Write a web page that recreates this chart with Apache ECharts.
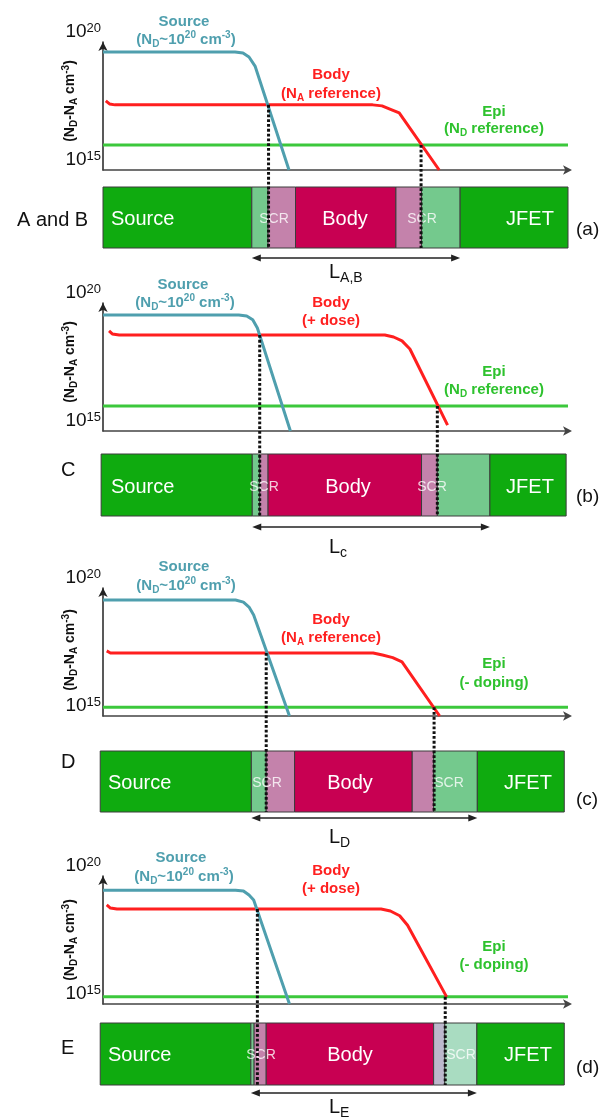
<!DOCTYPE html>
<html>
<head>
<meta charset="utf-8">
<script src="https://cdn.jsdelivr.net/npm/echarts@6/dist/echarts.min.js"></script>
<style>
  html, body { margin: 0; padding: 0; background: #fff; }
  #chart { width: 601px; height: 1119px; }
</style>
</head>
<body>
<div id="chart"></div>
<script>
// Net doping N_D - N_A (cm^-3) versus lateral position (0-100, arbitrary units)

// (a) devices A and B
const sourceXa = [0, 28.4, 30.1, 31.4, 32.7, 40.0];
const sourceNa = [4.1e19, 4.1e19, 3.7e19, 2.6e19, 1.15e19, 1e15];
const bodyXa = [0.6, 1.4, 2.6, 58.0, 60.0, 61.7, 63.7, 72.3];
const bodyNa = [5.0e17, 3.8e17, 3.5e17, 3.5e17, 3.2e17, 2.4e17, 1.7e17, 1e15];
const epiNa = 9.5e15;
const junctionXa = [35.6, 68.4];
const junctionNa = [3.5e17, 9.5e15];
const stripEdgesa = [0, 32.0, 35.5, 41.4, 63.0, 68.5, 76.8, 100];
const stripKindsa = ['source', 'scrN', 'scrP', 'body', 'scrP', 'scrN', 'jfet'];

// (b) device C
const sourceXb = [0, 29.2, 30.9, 32.2, 33.2, 40.3];
const sourceNb = [3.4e19, 3.4e19, 3.1e19, 2.2e19, 1.05e19, 1e15];
const bodyXb = [1.3, 2.0, 3.5, 60.6, 62.5, 64.3, 66.0, 74.1];
const bodyNb = [8.1e18, 6.2e18, 5.6e18, 5.6e18, 4.7e18, 3.3e18, 1.6e18, 1.7e15];
const epiNb = 9.5e15;
const junctionXb = [33.7, 71.9];
const junctionNb = [5.6e18, 9.5e15];
const stripEdgesb = [-0.4, 32.1, 33.7, 35.5, 68.5, 71.9, 83.2, 99.6];
const stripKindsb = ['source', 'scrN', 'scrP', 'body', 'scrP', 'scrN', 'jfet'];

// (c) device D
const sourceXc = [0, 28.5, 30.2, 31.4, 32.4, 40.1];
const sourceNc = [3.4e19, 3.4e19, 2.8e19, 1.8e19, 8.9e18, 1e15];
const bodyXc = [0.8, 1.6, 3.0, 58.1, 60.1, 62.3, 64.3, 72.4];
const bodyNc = [3.5e17, 2.9e17, 2.9e17, 2.9e17, 2.4e17, 1.9e17, 1.3e17, 1e15];
const epiNc = 2.2e15;
const junctionXc = [35.1, 71.2];
const junctionNc = [2.9e17, 2.2e15];
const stripEdgesc = [-0.6, 31.9, 35.1, 41.2, 66.5, 71.1, 80.5, 99.2];
const stripKindsc = ['source', 'scrN', 'scrP', 'body', 'scrP', 'scrN', 'jfet'];

// (d) device E
const sourceXd = [0, 28.5, 30.2, 31.4, 32.4, 40.1];
const sourceNd = [2.8e19, 2.8e19, 2.6e19, 1.8e19, 1.15e19, 1e15];
const bodyXd = [0.8, 1.6, 3.0, 59.8, 61.8, 63.8, 65.5, 73.9];
const bodyNd = [7.4e18, 5.6e18, 5.1e18, 5.1e18, 4.3e18, 2.8e18, 1.2e18, 1.9e15];
const epiNd = 1.9e15;
const junctionXd = [33.2, 73.6];
const junctionNd = [5.1e18, 1.9e15];
const stripEdgesd = [-0.6, 31.8, 32.5, 35.1, 71.1, 73.5, 80.4, 99.2];
const stripKindsd = ['source', 'scrN', 'scrP', 'body', 'scrG', 'scrM', 'jfet'];

// Text content
const panelTags = ['A and B', 'C', 'D', 'E'];
const panelIds = ['(a)', '(b)', '(c)', '(d)'];
const bodyNotes = ['(N{sub|A} reference)', '(+ dose)', '(N{sub|A} reference)', '(+ dose)'];
const epiNotes = ['(N{sub|D} reference)', '(N{sub|D} reference)', '(- doping)', '(- doping)'];
const lengthSubs = ['A,B', 'c', 'D', 'E'];
const regionNames = ['Source', 'SCR', 'Body', 'SCR', 'JFET'];

// Page layout (pixels)
const LAYOUT = [
  { top: 42,  stripTop: 187,  stripH: 61, arrowY: 258,  lY: 272,  srcY: [22, 40],   srcX: [184, 186], bodyY: [75, 94],   epiY: [112, 129], titleY: 101, tagX: 17, tagY: 220,  idY: 230,  labelY: 219,  labelX: [111, 274, 345, 422, 530] },
  { top: 303, stripTop: 454,  stripH: 62, arrowY: 527,  lY: 547,  srcY: [285, 303], srcX: [183, 185], bodyY: [303, 321], epiY: [372, 390], titleY: 362, tagX: 61, tagY: 470,  idY: 497,  labelY: 487,  labelX: [111, 264, 348, 432, 530] },
  { top: 588, stripTop: 751,  stripH: 61, arrowY: 818,  lY: 837,  srcY: [567, 586], srcX: [184, 186], bodyY: [620, 638], epiY: [664, 683], titleY: 650, tagX: 61, tagY: 762,  idY: 800,  labelY: 783,  labelX: [108, 267, 350, 449, 528] },
  { top: 876, stripTop: 1023, stripH: 62, arrowY: 1093, lY: 1107, srcY: [858, 877], srcX: [181, 184], bodyY: [871, 889], epiY: [947, 965], titleY: 940, tagX: 61, tagY: 1048, idY: 1068, labelY: 1055, labelX: [108, 261, 350, 461, 528] }
];
const PLOT_LEFT = 103, PLOT_W = 465, PLOT_H = 128;

const FONT = '"Liberation Sans", Arial, Helvetica, sans-serif';
const TEAL = '#4f9fae', RED = '#ff1f1f', EPI_LINE = '#3cc83c', EPI_TEXT = '#2ec22e';
const STRIP_COLORS = {
  source: '#0fab0f', jfet: '#0fab0f', scrN: '#74c98d', scrP: '#c482ab',
  body: '#c80052', scrG: '#bcb8cc', scrM: '#a9dcc1'
};

const panels = [
  { sourceX: sourceXa, sourceN: sourceNa, bodyX: bodyXa, bodyN: bodyNa, epiN: epiNa, junctionX: junctionXa, junctionN: junctionNa, edges: stripEdgesa, kinds: stripKindsa },
  { sourceX: sourceXb, sourceN: sourceNb, bodyX: bodyXb, bodyN: bodyNb, epiN: epiNb, junctionX: junctionXb, junctionN: junctionNb, edges: stripEdgesb, kinds: stripKindsb },
  { sourceX: sourceXc, sourceN: sourceNc, bodyX: bodyXc, bodyN: bodyNc, epiN: epiNc, junctionX: junctionXc, junctionN: junctionNc, edges: stripEdgesc, kinds: stripKindsc },
  { sourceX: sourceXd, sourceN: sourceNd, bodyX: bodyXd, bodyN: bodyNd, epiN: epiNd, junctionX: junctionXd, junctionN: junctionNd, edges: stripEdgesd, kinds: stripKindsd }
];

function scriptRich(color, size, weight) {
  const small = Math.round(size * 0.68);
  return {
    sub: { fill: color, fontFamily: FONT, fontWeight: weight, fontSize: small, lineHeight: small, verticalAlign: 'bottom' },
    sup: { fill: color, fontFamily: FONT, fontWeight: weight, fontSize: small, lineHeight: small, verticalAlign: 'top' }
  };
}

function text(x, y, str, o) {
  return {
    type: 'text', x: x, y: y, z: o.z == null ? 10 : o.z, silent: true,
    rotation: o.rotation || 0,
    style: {
      text: str, fill: o.color || '#111', fontFamily: FONT,
      fontSize: o.size, fontWeight: o.weight || 'normal',
      align: o.align || 'center', verticalAlign: 'middle',
      lineHeight: o.lineHeight || o.size + 4, opacity: o.opacity == null ? 1 : o.opacity,
      rich: o.rich || scriptRich(o.color || '#111', o.size, o.weight || 'normal')
    }
  };
}

const grid = [], xAxis = [], yAxis = [], series = [], graphic = [];

panels.forEach((p, i) => {
  const L = LAYOUT[i];
  const g = 2 * i, sg = 2 * i + 1;

  // Doping profile plot
  grid[g] = { left: PLOT_LEFT, width: PLOT_W, top: L.top, height: PLOT_H, containLabel: false, outerBoundsMode: 'none' };
  xAxis[g] = {
    gridIndex: g, type: 'value', min: 0, max: 100,
    axisLine: { show: true, onZero: false, symbol: ['none', 'arrow'], symbolSize: [7, 9], symbolOffset: [0, 4], lineStyle: { color: '#444', width: 1.5 } },
    axisTick: { show: false }, axisLabel: { show: false }, splitLine: { show: false }
  };
  yAxis[g] = {
    gridIndex: g, type: 'log', logBase: 10, min: 1e15, max: 1e20,
    axisLine: { show: true, symbol: ['none', 'arrow'], symbolSize: [7, 9], lineStyle: { color: '#222', width: 1.5 } },
    axisTick: { show: false }, splitLine: { show: false },
    axisLabel: {
      show: true, interval: 0, margin: 2, showMinLabel: true, showMaxLabel: true,
      verticalAlign: 'bottom', color: '#111', fontFamily: FONT, fontSize: 19, lineHeight: 20,
      formatter: v => {
        const e = Math.round(Math.log10(v));
        return (e === 15 || e === 20) ? '10{sup|' + e + '}' : '';
      },
      rich: { sup: { color: '#111', fontFamily: FONT, fontSize: 13, lineHeight: 12, verticalAlign: 'top' } }
    }
  };

  // Device cross-section strip shares the x scale with the profile plot above it
  grid[sg] = { left: PLOT_LEFT, width: PLOT_W, top: L.stripTop, height: L.stripH, containLabel: false, outerBoundsMode: 'none' };
  xAxis[sg] = { gridIndex: sg, type: 'value', min: 0, max: 100, show: false };
  yAxis[sg] = { gridIndex: sg, type: 'value', min: 0, max: 1, show: false };

  const lineBase = { type: 'line', xAxisIndex: g, yAxisIndex: g, symbol: 'none', clip: false, silent: true, z: 3 };
  series.push(Object.assign({}, lineBase, {
    name: 'Epi', data: [[0, p.epiN], [100, p.epiN]],
    lineStyle: { color: EPI_LINE, width: 3 }
  }));
  series.push(Object.assign({}, lineBase, {
    name: 'Body', data: p.bodyX.map((x, k) => [x, p.bodyN[k]]),
    lineStyle: { color: RED, width: 3, join: 'round' }
  }));
  series.push(Object.assign({}, lineBase, {
    name: 'Source', data: p.sourceX.map((x, k) => [x, p.sourceN[k]]),
    lineStyle: { color: TEAL, width: 3, join: 'round' }
  }));

  // Strip regions
  series.push({
    type: 'custom', xAxisIndex: sg, yAxisIndex: sg, clip: false, silent: true, z: 2,
    data: p.kinds.map((k, j) => [p.edges[j], p.edges[j + 1], j]),
    renderItem: (params, api) => {
      const a = api.coord([api.value(0), 1]);
      const b = api.coord([api.value(1), 0]);
      const kind = p.kinds[api.value(2)];
      return {
        type: 'rect',
        shape: { x: a[0], y: a[1], width: b[0] - a[0], height: b[1] - a[1] },
        style: { fill: STRIP_COLORS[kind], stroke: '#3c3c3c', lineWidth: 1 }
      };
    }
  });

  // Channel length arrow below the strip
  series.push({
    type: 'custom', xAxisIndex: sg, yAxisIndex: sg, clip: false, silent: true, z: 3,
    data: [[p.edges[1], p.edges[6]]],
    renderItem: (params, api) => {
      const a = api.coord([api.value(0), 0]);
      const b = api.coord([api.value(1), 0]);
      const y = L.arrowY;
      return {
        type: 'group', children: [
          { type: 'line', shape: { x1: a[0] + 4, y1: y, x2: b[0] - 4, y2: y }, style: { stroke: '#222', lineWidth: 1.5 } },
          { type: 'polygon', shape: { points: [[a[0], y], [a[0] + 9, y - 3.5], [a[0] + 9, y + 3.5]] }, style: { fill: '#222' } },
          { type: 'polygon', shape: { points: [[b[0], y], [b[0] - 9, y - 3.5], [b[0] - 9, y + 3.5]] }, style: { fill: '#222' } }
        ]
      };
    }
  });

  // Dotted projections from the junction crossings down through the strip
  series.push({
    type: 'custom', xAxisIndex: g, yAxisIndex: g, clip: false, silent: true, z: 6,
    data: p.junctionX.map((x, k) => [x, p.junctionN[k]]),
    renderItem: (params, api) => {
      const c = api.coord([api.value(0), api.value(1)]);
      return {
        type: 'line',
        shape: { x1: c[0], y1: c[1], x2: c[0], y2: L.stripTop + L.stripH },
        style: { stroke: '#111', lineWidth: 3, lineDash: [2.8, 2] }
      };
    }
  });

  // Annotations
  graphic.push(text(L.srcX[0], L.srcY[0], 'Source', { color: TEAL, size: 15, weight: 'bold' }));
  graphic.push(text(L.srcX[1], L.srcY[1], '(N{sub|D}~10{sup|20} cm{sup|-3})', { color: TEAL, size: 15, weight: 'bold', lineHeight: 19 }));
  graphic.push(text(331, L.bodyY[0], 'Body', { color: RED, size: 15, weight: 'bold' }));
  graphic.push(text(331, L.bodyY[1], bodyNotes[i], { color: RED, size: 15, weight: 'bold', lineHeight: 19 }));
  graphic.push(text(494, L.epiY[0], 'Epi', { color: EPI_TEXT, size: 15, weight: 'bold' }));
  graphic.push(text(494, L.epiY[1], epiNotes[i], { color: EPI_TEXT, size: 15, weight: 'bold', lineHeight: 19 }));
  graphic.push(text(70, L.titleY, '(N{sub|D}-N{sub|A} cm{sup|-3})', { size: 14, weight: 'bold', rotation: Math.PI / 2, lineHeight: 18 }));

  graphic.push(text(L.tagX, L.tagY, panelTags[i], { size: 20, align: 'left' }));
  graphic.push(text(576, L.idY, panelIds[i], { size: 19, align: 'left' }));
  graphic.push(text(329, L.lY, 'L{sub|' + lengthSubs[i] + '}', {
    size: 20, align: 'left', lineHeight: 26,
    rich: { sub: { fill: '#111', fontFamily: FONT, fontSize: 14, lineHeight: 14, verticalAlign: 'bottom' } }
  }));

  // Region names inside the strip
  regionNames.forEach((name, k) => {
    const isScr = name === 'SCR';
    graphic.push(text(L.labelX[k], L.labelY, name, {
      color: '#ffffff', size: isScr ? 14 : 20, align: k === 0 ? 'left' : 'center',
      opacity: isScr ? 0.8 : 1, z: 4
    }));
  });
});

const chart = echarts.init(document.getElementById('chart'), null, { renderer: 'canvas' });
chart.setOption({
  animation: false,
  backgroundColor: '#ffffff',
  grid: grid, xAxis: xAxis, yAxis: yAxis, series: series, graphic: graphic
});
</script>
</body>
</html>
